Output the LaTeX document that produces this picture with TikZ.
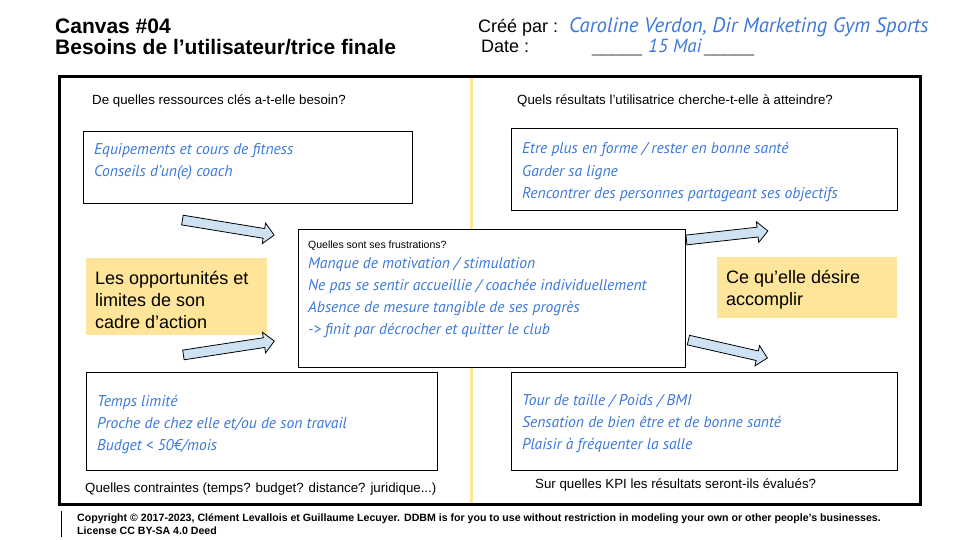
\documentclass[tikz,border=0pt]{standalone}
\usepackage{fontspec}
\setmainfont{Liberation Sans}
\newfontfamily\handfont{PT Sans}
\usetikzlibrary{shapes.arrows}

\definecolor{inkblue}{HTML}{3C78D8}
\definecolor{padyellow}{HTML}{FFE599}
\definecolor{arrowblue}{HTML}{CFE2F3}
\definecolor{blankgray}{HTML}{595959}

\tikzstyle{headline} = [anchor=base west, inner sep=0pt, font=\bfseries\fontsize{21}{21}\selectfont]
\tikzstyle{meta} = [anchor=base west, inner sep=0pt, font=\fontsize{18}{18}\selectfont]
\tikzstyle{signature} = [anchor=base west, inner sep=0pt, text=inkblue, font=\handfont\itshape\fontsize{20.8}{20.8}\selectfont]
\tikzstyle{question} = [anchor=base west, inner sep=0pt, font=\fontsize{13.3}{16}\selectfont]
\tikzstyle{answerbox} = [rectangle, anchor=north west, inner sep=0pt, draw=black, line width=1pt, fill=white]
\tikzstyle{hand} = [anchor=base west, inner sep=0pt, align=left, text=inkblue, font=\handfont\itshape\fontsize{15.6}{22}\selectfont]
\tikzstyle{sticky} = [rectangle, anchor=north west, inner sep=0pt, fill=padyellow]
\tikzstyle{stickytext} = [anchor=base west, inner sep=0pt, align=left, font=\fontsize{18}{22}\selectfont]
\tikzstyle{fatarrow} = [single arrow, anchor=tail, draw=black, fill=arrowblue, line width=0.8pt, inner sep=4.5pt, single arrow head extend=5.5pt]

% note: multi-line nodes sit on the baseline of their last line
\begin{document}
\begin{tikzpicture}[x=1pt, y=-1pt]
\useasboundingbox (0,0) rectangle (960,540);

% header
\node (title) [headline] at (55,34) {Canvas \#04};
\node (subtitle) [headline] at (55,55) {Besoins de l’utilisateur/trice finale};
\node (createdby) [meta] at (478,33) {Créé par :};
\node (author) [signature] at (569,33) {Caroline Verdon, Dir Marketing Gym Sports};
\node (date) [meta] at (481,53) {Date :};
\node (blankA) [meta, text=blankgray] at (592,53) {\_\_\_\_\_};
\node (day) [signature, font=\handfont\itshape\fontsize{19}{19}\selectfont] at (648,53) {15 Mai};
\node (blankB) [meta, text=blankgray] at (704,53) {\_\_\_\_\_};

% canvas frame and divider
\draw [padyellow, line width=3pt] (471,78) -- (471,503);
\draw [line width=3pt] (59,77) rectangle (920,504);

% top half
\node (resQ) [question] at (92,105) {De quelles ressources clés a-t-elle besoin?};
\node (res) [answerbox, minimum width=329pt, minimum height=72pt] at (83,131) {};
\node (resList) [hand] at (94,177) {Equipements et cours de fitness\\Conseils d’un(e) coach};

\node (goalQ) [question] at (517,105) {Quels résultats l’utilisatrice cherche-t-elle à atteindre?};
\node (goal) [answerbox, minimum width=386pt, minimum height=82pt] at (511,128) {};
\node (goalList) [hand] at (522,198) {Etre plus en forme / rester en bonne santé\\Garder sa ligne\\Rencontrer des personnes partageant ses objectifs};

% middle
\node (limits) [sticky, minimum width=181pt, minimum height=77pt] at (86,258) {};
\node (limitsTxt) [stickytext] at (95,328) {Les opportunités et\\limites de son\\cadre d’action};
\node (wish) [sticky, minimum width=180pt, minimum height=61pt] at (717,257) {};
\node (wishTxt) [stickytext] at (726,305) {Ce qu’elle désire\\accomplir};

\node (frust) [answerbox, minimum width=387pt, minimum height=138pt] at (298,229) {};
\node (frustQ) [question, font=\fontsize{10.5}{12}\selectfont] at (308,248) {Quelles sont ses frustrations?};
\node (frustList) [hand] at (308,334) {Manque de motivation / stimulation\\Ne pas se sentir accueillie / coachée individuellement\\Absence de mesure tangible de ses progrès\\-> finit par décrocher et quitter le club};

% block arrows
\node (arrowTL) [fatarrow, minimum height=93pt, rotate=-9.3] at (182,220) {};
\node (arrowBL) [fatarrow, minimum height=92pt, rotate=8.7] at (183,355) {};
\node (arrowTR) [fatarrow, minimum height=82pt, rotate=6.3] at (686,240) {};
\node (arrowBR) [fatarrow, minimum height=81pt, rotate=-12.8] at (688,340) {};

% bottom half
\node (limit) [answerbox, minimum width=351pt, minimum height=98pt] at (86,372) {};
\node (limitList) [hand] at (97,450) {Temps limité\\Proche de chez elle et/ou de son travail\\Budget < 50€/mois};
\node (limitQ) [question] at (85,492) {Quelles contraintes (temps? budget? distance? juridique...)};

\node (kpi) [answerbox, minimum width=386pt, minimum height=98pt] at (511,372) {};
\node (kpiList) [hand] at (522,449) {Tour de taille / Poids / BMI\\Sensation de bien être et de bonne santé\\Plaisir à fréquenter la salle};
\node (kpiQ) [question] at (535,488) {Sur quelles KPI les résultats seront-ils évalués?};

% footer
\draw [line width=1pt] (61,511) -- (61,537);
\node (legal) [anchor=base west, inner sep=0pt, align=left, font=\bfseries\fontsize{10.6}{12.5}\selectfont] at (77,534) {Copyright © 2017-2023, Clément Levallois et Guillaume Lecuyer. DDBM is for you to use without restriction in modeling your own or other people's businesses.\\License CC BY-SA 4.0 Deed};
\end{tikzpicture}
\end{document}
